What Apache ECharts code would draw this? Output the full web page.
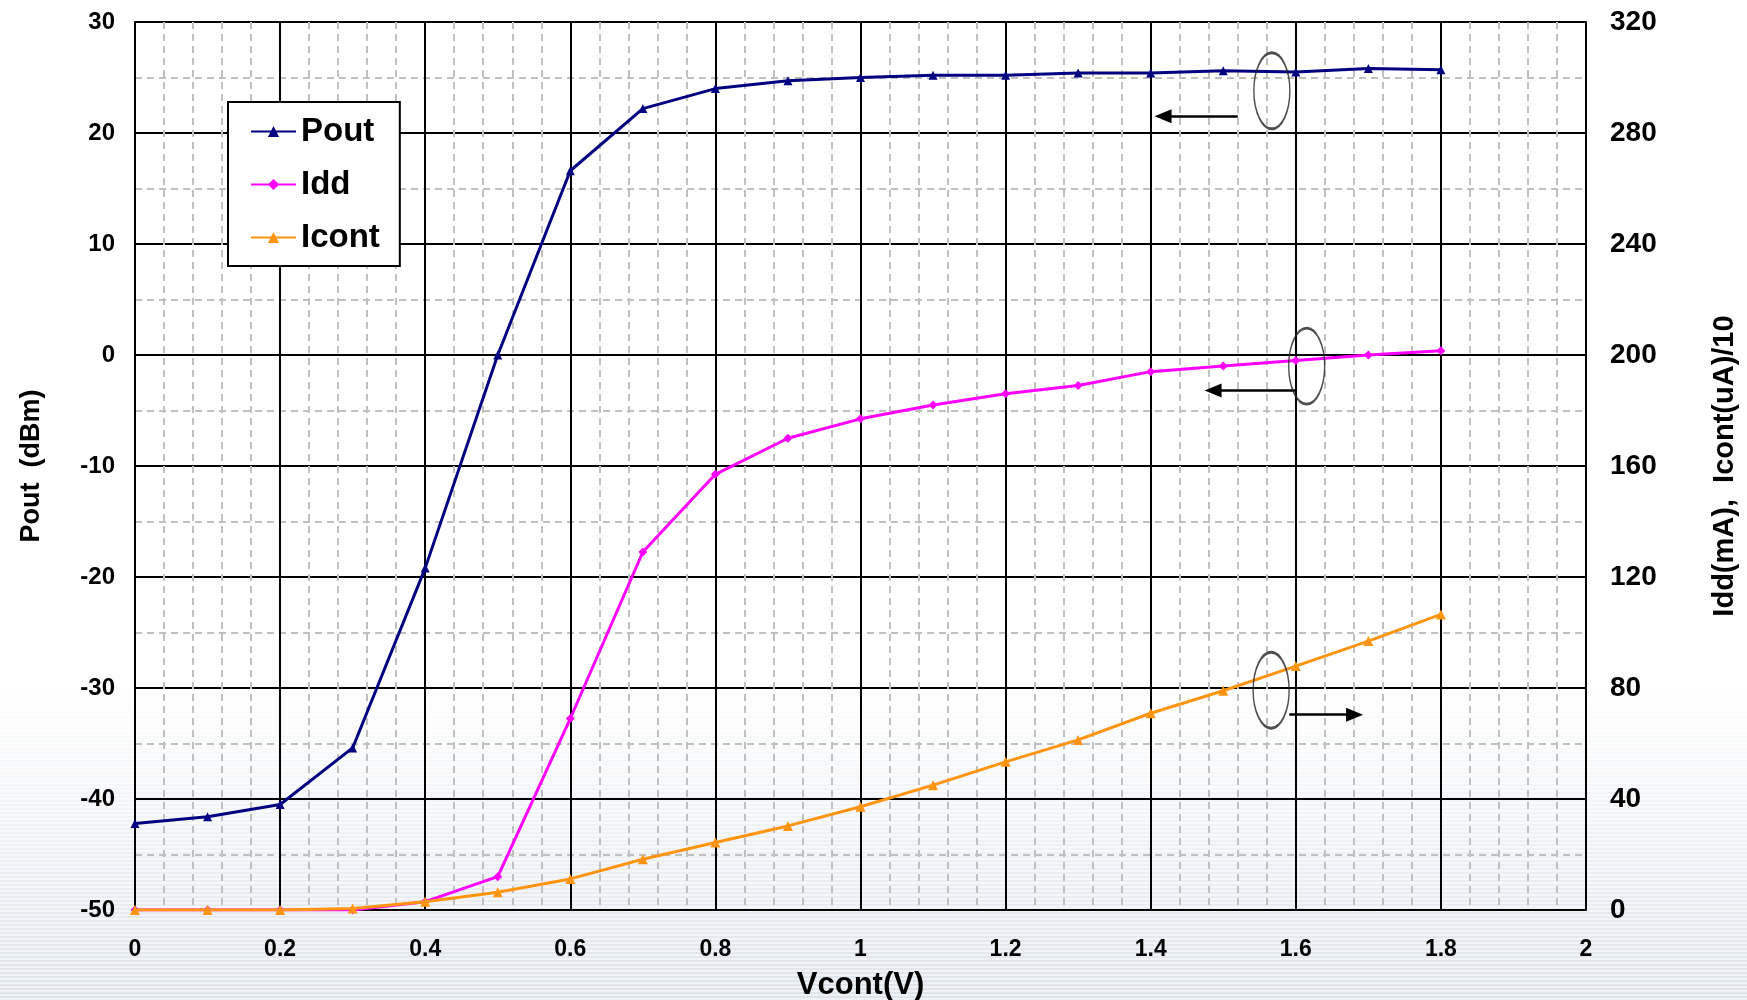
<!DOCTYPE html>
<html><head><meta charset="utf-8">
<script src="https://cdn.jsdelivr.net/npm/echarts@6/dist/echarts.min.js"></script>
<style>html,body{margin:0;padding:0;background:#fff}#c{width:1747px;height:1000px}</style>
</head><body><div id="c"></div>
<script>
const vcont = [0, 0.1, 0.2, 0.3, 0.4, 0.5, 0.6, 0.7, 0.8, 0.9, 1.0, 1.1, 1.2, 1.3, 1.4, 1.5, 1.6, 1.7, 1.8];
const pout  = [-42.2, -41.6, -40.5, -35.4, -19.2, 0, 16.6, 22.2, 24.0, 24.7, 25.0, 25.2, 25.2, 25.4, 25.4, 25.6, 25.5, 25.8, 25.7];
const idd   = [0, 0, 0, 0, 3, 12, 69, 129, 157, 170, 177, 182, 186, 189, 194, 196, 198, 200, 201.5];
const icont = [0, 0, 0, 0.5, 3, 6.4, 11.2, 18.3, 24.3, 30.3, 37.2, 45, 53.4, 61.3, 70.9, 79, 87.9, 96.9, 106.5];
const seriesNames = ['Pout', 'Idd', 'Icont'];
const xAxisName = 'Vcont(V)';
const leftAxisName = 'Pout  (dBm)';
const rightAxisName = 'Idd(mA),  Icont(uA)/10';
// annotation anchors (x, left-axis value)
const ellipseCenters = [[1.567, 23.8], [1.615, -1.0], [1.566, -30.2]];
const arrowStarts = [[1.520, 21.5], [1.600, -3.2], [1.591, -32.4]];
const arrowEnds   = [[1.417, 21.5], [1.486, -3.2], [1.681, -32.4]];

const pair = (ys) => vcont.map((x, i) => [x, ys[i]]);
const FONT = 'Liberation Sans';

// striped light background, fading in towards the bottom
const bg = document.createElement('canvas');
bg.width = 1747; bg.height = 1000;
const g = bg.getContext('2d');
g.fillStyle = '#ffffff'; g.fillRect(0, 0, 1747, 1000);
for (let y = 680; y < 1000; y += 4) {
  const t = (y - 680) / 320;
  g.fillStyle = 'rgba(200,210,222,' + (0.6 * t).toFixed(3) + ')';
  g.fillRect(0, y, 1747, 2);
  g.fillStyle = 'rgba(215,222,232,' + (0.4 * t).toFixed(3) + ')';
  g.fillRect(0, y + 2, 1747, 2);
}

const chart = echarts.init(document.getElementById('c'), null, {renderer: 'canvas'});

chart.setOption({
  backgroundColor: {image: bg, repeat: 'no-repeat'},
  animation: false,
  grid: {left: 135, right: 161, top: 22, bottom: 90, containLabel: false, outerBoundsMode: 'none'},
  legend: {
    data: seriesNames,
    orient: 'vertical', left: 228, top: 102,
    padding: [13, 20, 12, 22], itemGap: 20, itemWidth: 45, itemHeight: 14,
    backgroundColor: '#fff', borderColor: '#000', borderWidth: 2, borderRadius: 0,
    textStyle: {fontFamily: FONT, fontWeight: 'bold', fontSize: 33, color: '#000'}
  },
  xAxis: {
    type: 'value', min: 0, max: 2, interval: 0.2,
    name: xAxisName, nameLocation: 'middle', nameGap: 60,
    nameTextStyle: {fontFamily: FONT, fontWeight: 'bold', fontSize: 31, color: '#000'},
    axisLine: {show: true, lineStyle: {color: '#000', width: 2}},
    axisTick: {show: false},
    axisLabel: {margin: 28, fontFamily: FONT, fontWeight: 'bold', fontSize: 23, color: '#000'},
    splitLine: {show: true, lineStyle: {color: '#000', width: 2}},
    minorTick: {show: false, splitNumber: 5},
    minorSplitLine: {show: true, lineStyle: {color: '#c0c0c0', width: 2, type: [7, 5]}}
  },
  yAxis: [{
    type: 'value', min: -50, max: 30, interval: 10, position: 'left',
    name: leftAxisName, nameLocation: 'middle', nameGap: 90, nameRotate: 90,
    nameTextStyle: {fontFamily: FONT, fontWeight: 'bold', fontSize: 27, color: '#000'},
    axisLine: {show: true, lineStyle: {color: '#000', width: 2}},
    axisTick: {show: false},
    axisLabel: {margin: 20, fontFamily: FONT, fontWeight: 'bold', fontSize: 24, color: '#000'},
    splitLine: {show: true, lineStyle: {color: '#000', width: 2}},
    minorTick: {show: false, splitNumber: 2},
    minorSplitLine: {show: true, lineStyle: {color: '#c0c0c0', width: 2, type: [7, 5]}}
  }, {
    type: 'value', min: 0, max: 320, interval: 40, position: 'right',
    name: rightAxisName, nameLocation: 'middle', nameGap: 124, nameRotate: 90,
    nameTextStyle: {fontFamily: FONT, fontWeight: 'bold', fontSize: 29, color: '#000'},
    axisLine: {show: true, lineStyle: {color: '#000', width: 2}},
    axisTick: {show: false},
    axisLabel: {margin: 24, fontFamily: FONT, fontWeight: 'bold', fontSize: 28, color: '#000'},
    splitLine: {show: false}
  }],
  series: [{
    name: 'Pout', type: 'line', yAxisIndex: 0, data: pair(pout),
    symbol: 'triangle', symbolSize: 9, showAllSymbol: true,
    lineStyle: {color: '#000080', width: 3}, itemStyle: {color: '#000080'},
    markLine: {
      silent: true, symbol: ['none', 'triangle'], symbolSize: [14, 17],
      lineStyle: {color: '#000', width: 2.5, type: 'solid'}, label: {show: false},
      data: arrowStarts.map((s, i) => [{coord: s}, {coord: arrowEnds[i]}])
    },
    z: 3
  }, {
    name: 'Idd', type: 'line', yAxisIndex: 1, data: pair(idd),
    symbol: 'diamond', symbolSize: 9, showAllSymbol: true,
    lineStyle: {color: '#ff00ff', width: 3}, itemStyle: {color: '#ff00ff'}, z: 4
  }, {
    name: 'Icont', type: 'line', yAxisIndex: 1, data: pair(icont),
    symbol: 'triangle', symbolSize: 10, showAllSymbol: true,
    lineStyle: {color: '#ff9410', width: 3}, itemStyle: {color: '#ff9410'}, z: 5
  }, {
    name: 'annot', type: 'scatter', yAxisIndex: 0, data: ellipseCenters,
    symbol: 'circle', symbolSize: [36, 76], silent: true,
    itemStyle: {color: 'rgba(0,0,0,0)', borderColor: '#222', borderWidth: 2}, z: 6
  }]
});
</script></body></html>
